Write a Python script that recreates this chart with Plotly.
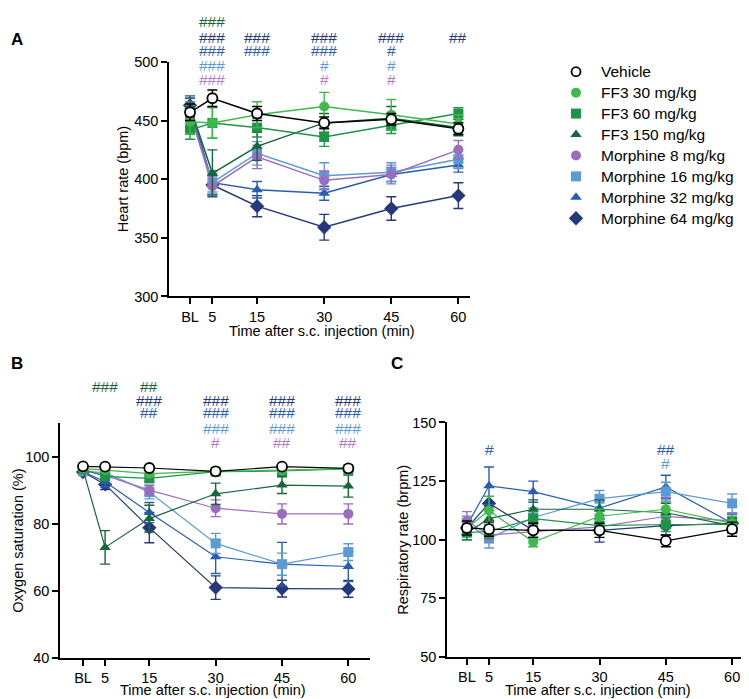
import plotly.graph_objects as go

W, H = 749, 699

# ---------------- data ----------------
time_vals = [0, 5, 15, 30, 45, 60]
time_labels = ["BL", "5", "15", "30", "45", "60"]

series_names = ["Vehicle", "FF3 30 mg/kg", "FF3 60 mg/kg", "FF3 150 mg/kg",
                "Morphine 8 mg/kg", "Morphine 16 mg/kg", "Morphine 32 mg/kg", "Morphine 64 mg/kg"]

# Panel A: heart rate (bpm)
hr_vehicle = [457, 469, 456, 448, 451, 443]
hr_ff3_30 = [449, 448, 455, 462, 455, 447]
hr_ff3_60 = [442, 448, 444, 436, 446, 456]
hr_ff3_150 = [462, 405, 428, 448, 452, 444]
hr_m8 = [458, 394, 419, 399, 404, 425]
hr_m16 = [455, 397, 422, 403, 406, 417]
hr_m32 = [461, 397, 391, 388, 404, 412]
hr_m64 = [463, 395, 377, 359, 375, 386]

hr_err_vehicle = [7, 7, 6, 5, 5, 5]
hr_err_ff3_30 = [10, 13, 11, 12, 13, 8]
hr_err_ff3_60 = [8, 13, 8, 8, 7, 5]
hr_err_ff3_150 = [9, 20, 12, 8, 10, 7]
hr_err_m8 = [8, 8, 10, 8, 8, 8]
hr_err_m16 = [8, 8, 10, 11, 8, 8]
hr_err_m32 = [8, 10, 7, 6, 6, 6]
hr_err_m64 = [6, 8, 9, 11, 10, 11]

# Panel B: oxygen saturation (%)
o2_vehicle = [97.2, 97.1, 96.7, 95.7, 97.1, 96.6]
o2_ff3_30 = [96.6, 96.1, 95.0, 95.7, 96.0, 96.5]
o2_ff3_60 = [96.4, 94.2, 93.6, 95.6, 95.8, 96.4]
o2_ff3_150 = [96.2, 73.0, 81.6, 89.0, 91.6, 91.3]
o2_m8 = [96.0, 94.5, 90.1, 84.7, 83.0, 83.0]
o2_m16 = [95.7, 95.3, 89.5, 74.2, 68.0, 71.6]
o2_m32 = [95.6, 92.6, 83.4, 70.2, 68.0, 67.3]
o2_m64 = [95.5, 91.8, 78.9, 61.0, 60.7, 60.6]

o2_err_vehicle = [0.5, 0.5, 0.5, 0.5, 0.5, 0.5]
o2_err_ff3_30 = [0.5, 0.6, 0.8, 0.5, 0.5, 0.5]
o2_err_ff3_60 = [0.6, 1.2, 1.0, 0.6, 0.8, 0.6]
o2_err_ff3_150 = [0.8, 5.0, 4.0, 3.2, 2.5, 3.3]
o2_err_m8 = [0.6, 1.0, 1.5, 2.5, 3.0, 3.0]
o2_err_m16 = [0.6, 0.8, 2.0, 3.0, 3.3, 2.5]
o2_err_m32 = [0.7, 1.5, 3.0, 5.0, 6.5, 4.5]
o2_err_m64 = [0.8, 1.5, 4.5, 3.5, 2.5, 2.5]

# Panel C: respiratory rate (brpm)
rr_vehicle = [105, 104.5, 104, 104, 99.5, 104.5]
rr_ff3_30 = [105, 112.5, 99, 110, 113, 107]
rr_ff3_60 = [103, 103.5, 109, 106, 106.5, 106.5]
rr_ff3_150 = [103, 109, 113, 113, 111.5, 106]
rr_m8 = [108, 102, 103.5, 105.5, 110, 108]
rr_m16 = [107, 100.5, 109.5, 117.5, 120.5, 115.5]
rr_m32 = [106, 123, 120.5, 113.5, 122.5, 107]
rr_m64 = [105, 115.5, 104, 104, 106, 107]

rr_err_vehicle = [3, 3, 3, 3, 2.5, 3]
rr_err_ff3_30 = [3, 6, 2, 3, 3, 3]
rr_err_ff3_60 = [3, 3, 3, 3, 3, 3]
rr_err_ff3_150 = [3, 5, 4, 4, 4, 3]
rr_err_m8 = [4, 3, 3, 3, 8, 3]
rr_err_m16 = [3, 4, 4, 3.5, 4, 4]
rr_err_m32 = [3, 8, 4.5, 3, 5, 4]
rr_err_m64 = [3, 3, 3, 5, 4, 4]

# significance marks: (time, group index, text)
sig_A = [(5, 3, "###"), (5, 7, "###"), (5, 6, "###"), (5, 5, "###"), (5, 4, "###"),
         (15, 7, "###"), (15, 6, "###"),
         (30, 7, "###"), (30, 6, "###"), (30, 5, "#"), (30, 4, "#"),
         (45, 7, "###"), (45, 6, "#"), (45, 5, "#"), (45, 4, "#"),
         (60, 7, "##")]
sig_B = [(5, 3, "###"),
         (15, 3, "##"), (15, 7, "###"), (15, 6, "##"),
         (30, 7, "###"), (30, 6, "###"), (30, 5, "###"), (30, 4, "#"),
         (45, 7, "###"), (45, 6, "###"), (45, 5, "###"), (45, 4, "##"),
         (60, 7, "###"), (60, 6, "###"), (60, 5, "###"), (60, 4, "##")]
sig_C = [(5, 6, "#"), (45, 6, "##"), (45, 5, "#")]

# ---------------- styles ----------------
colors = ["#000000", "#3dba4b", "#1f9346", "#17663a",
          "#9a6dbf", "#5b9bd5", "#2a5cb0", "#253978"]
sig_colors = ["#000000", "#3dba4b", "#1f9346", "#17663a",
              "#b07ccb", "#5b9bd5", "#2a5cb0", "#253978"]
symbols = ["circle", "circle", "square", "triangle-up",
           "circle", "square", "triangle-up", "diamond"]
draw_order = [7, 6, 5, 4, 3, 2, 1, 0]

FONT = "Liberation Sans, Arial, sans-serif"

hr = [hr_vehicle, hr_ff3_30, hr_ff3_60, hr_ff3_150, hr_m8, hr_m16, hr_m32, hr_m64]
hr_err = [hr_err_vehicle, hr_err_ff3_30, hr_err_ff3_60, hr_err_ff3_150,
          hr_err_m8, hr_err_m16, hr_err_m32, hr_err_m64]
o2 = [o2_vehicle, o2_ff3_30, o2_ff3_60, o2_ff3_150, o2_m8, o2_m16, o2_m32, o2_m64]
o2_err = [o2_err_vehicle, o2_err_ff3_30, o2_err_ff3_60, o2_err_ff3_150,
          o2_err_m8, o2_err_m16, o2_err_m32, o2_err_m64]
rr = [rr_vehicle, rr_ff3_30, rr_ff3_60, rr_ff3_150, rr_m8, rr_m16, rr_m32, rr_m64]
rr_err = [rr_err_vehicle, rr_err_ff3_30, rr_err_ff3_60, rr_err_ff3_150,
          rr_err_m8, rr_err_m16, rr_err_m32, rr_err_m64]

fig = go.Figure()

def marker_style(i, size=10):
    is_vehicle = (i == 0)
    return dict(symbol=symbols[i], size=size if symbols[i] != "diamond" else size + 1,
                color="white" if is_vehicle else colors[i],
                line=dict(color=colors[i], width=1.8 if is_vehicle else 0))

def add_panel(vals, errs, xa, ya, lw):
    for i in draw_order:
        fig.add_trace(go.Scatter(
            x=time_vals, y=vals[i], xaxis=xa, yaxis=ya, name=series_names[i],
            mode="lines+markers", showlegend=False, cliponaxis=False,
            line=dict(color=colors[i], width=lw),
            marker=marker_style(i),
            error_y=dict(type="data", array=errs[i], visible=True,
                         color=colors[i], thickness=1.4, width=5),
        ))

add_panel(hr, hr_err, "x", "y", 1.5)
add_panel(o2, o2_err, "x2", "y2", 1.2)
add_panel(rr, rr_err, "x3", "y3", 1.2)

# legend drawn on its own hidden axis: one marker per series, row = series index
for i, name in enumerate(series_names):
    fig.add_trace(go.Scatter(
        x=[0], y=[i], xaxis="x4", yaxis="y4", mode="markers", showlegend=False,
        hoverinfo="skip", marker=marker_style(i, 10 if i else 9),
    ))

def px_x(p):
    return p / W

def px_y(p):
    return 1 - p / H

axis_common = dict(showline=True, linecolor="#000000", linewidth=1.5,
                   ticks="outside", ticklen=6, tickwidth=1.5, tickcolor="#000000",
                   showgrid=False, zeroline=False,
                   tickfont=dict(family=FONT, size=14.5, color="#000000"))

fig.update_layout(
    width=W, height=H, margin=dict(l=0, r=0, t=0, b=0),
    paper_bgcolor="white", plot_bgcolor="white", showlegend=False,
    font=dict(family=FONT, size=14.5, color="#000000"),
    xaxis=dict(domain=[px_x(161), px_x(462)], range=[-4.7, 62.6], anchor="y",
               tickvals=time_vals, ticktext=time_labels, **axis_common),
    yaxis=dict(domain=[px_y(287), px_y(47)], range=[300, 500], anchor="x",
               tickvals=[300, 350, 400, 450, 500], **axis_common),
    xaxis2=dict(domain=[px_x(52), px_x(362)], range=[-5.2, 64.9], anchor="y2",
                tickvals=time_vals, ticktext=time_labels, **axis_common),
    yaxis2=dict(domain=[px_y(657), px_y(417)], range=[40, 110], anchor="x2",
                tickvals=[40, 60, 80, 100], **axis_common),
    xaxis3=dict(domain=[px_x(439), px_x(748)], range=[-4.5, 65.4], anchor="y3",
                tickvals=time_vals, ticktext=time_labels, **axis_common),
    yaxis3=dict(domain=[px_y(656), px_y(416)], range=[50, 150], anchor="x3",
                tickvals=[50, 75, 100, 125, 150], **axis_common),
    xaxis4=dict(domain=[px_x(558), px_x(578)], range=[-1, 1], visible=False, anchor="y4"),
    yaxis4=dict(domain=[px_y(217), px_y(47)], range=[7.4667, -0.4667], visible=False, anchor="x4"),
)

ann = []
# significance rows: green row, navy, blue, light blue, purple
row_of = {3: 0, 7: 1, 6: 2, 5: 3, 4: 4}
rows_A_px = [6, 22.5, 35, 51, 64.5]
rows_B_px = [379, 394, 406, 422, 436]
SIGF = 15.5
for t, g, txt in sig_A:
    ann.append(dict(x=t, y=px_y(rows_A_px[row_of[g]]), xref="x", yref="paper", text=txt,
                    showarrow=False, xanchor="center", yanchor="middle",
                    font=dict(family=FONT, size=SIGF, color=sig_colors[g])))
for t, g, txt in sig_B:
    ann.append(dict(x=t, y=px_y(rows_B_px[row_of[g]]), xref="x2", yref="paper", text=txt,
                    showarrow=False, xanchor="center", yanchor="middle",
                    font=dict(family=FONT, size=SIGF, color=sig_colors[g])))
rows_C = {6: 138.3, 5: 132.5}
for t, g, txt in sig_C:
    ann.append(dict(x=t, y=rows_C[g], xref="x3", yref="y3", text=txt,
                    showarrow=False, xanchor="center", yanchor="middle",
                    font=dict(family=FONT, size=SIGF, color=sig_colors[g])))

# legend texts
for i, name in enumerate(series_names):
    ann.append(dict(x=px_x(591), y=i, xref="paper", yref="y4", text=name, showarrow=False,
                    xanchor="left", yanchor="middle",
                    font=dict(family=FONT, size=15.5, color="#000000")))

# axis titles
title_font = dict(family=FONT, size=14.5, color="#000000")
def t_ann(xp, yp, text, angle=0):
    return dict(x=px_x(xp), y=px_y(yp), xref="paper", yref="paper", showarrow=False,
                xanchor="center", yanchor="middle", text=text, textangle=angle, font=title_font)

ann += [
    t_ann(314, 322, "Time after s.c. injection (min)"),
    t_ann(115, 167, "Heart rate (bpm)", -90),
    t_ann(205, 690, "Time after s.c. injection (min)"),
    t_ann(10, 537, "Oxygen saturation (%)", -90),
    t_ann(590, 690, "Time after s.c. injection (min)"),
    t_ann(395, 536, "Respiratory rate (brpm)", -90),
]
# panel labels
lab_font = dict(family=FONT, size=17, color="#000000")
for lx, ly, lt in [(9, 24, "A"), (9, 356, "B"), (389, 356, "C")]:
    ann.append(dict(x=px_x(lx), y=px_y(ly), xref="paper", yref="paper", showarrow=False,
                    xanchor="center", yanchor="middle", text="<b>%s</b>" % lt, font=lab_font))

fig.update_layout(annotations=ann)

fig.write_html("out.html")
